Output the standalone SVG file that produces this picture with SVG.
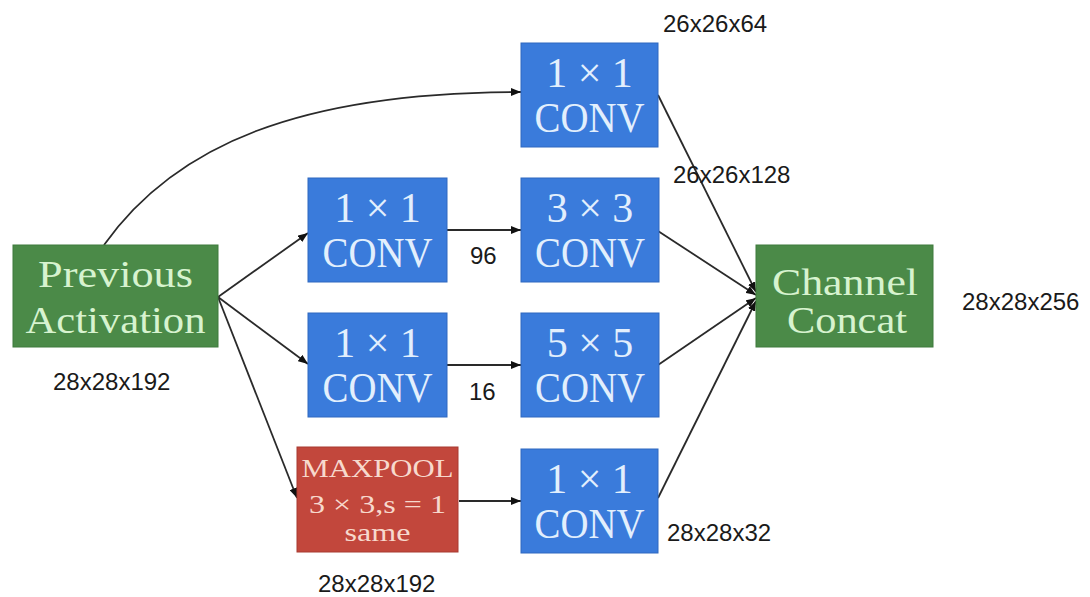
<svg xmlns="http://www.w3.org/2000/svg" width="1090" height="597" viewBox="0 0 1090 597">
  <defs>
    <marker id="arrow" viewBox="0 0 10 8" refX="10" refY="4" markerWidth="10" markerHeight="8" markerUnits="userSpaceOnUse" orient="auto">
      <path d="M0,0 L10,4 L0,8 z" fill="#111"/>
    </marker>
    <style>
      .edge { fill: none; stroke: #2a2a2a; stroke-width: 1.8; marker-end: url(#arrow); }
      .green { fill: #4b8a48; stroke: #3f7a3c; stroke-width: 1; }
      .blue { fill: #3a7bdb; stroke: #2f68c0; stroke-width: 1; }
      .red { fill: #c2473c; stroke: #a83a30; stroke-width: 1; }
      .serif { font-family: "Liberation Serif", "DejaVu Serif", serif; text-anchor: middle; }
      .gtxt { fill: #d7f3cf; font-size: 38px; }
      .btxt { fill: #e2effd; font-size: 42px; }
      .rtxt { fill: #f7d9cd; font-size: 26px; }
      .dim { font-family: "Liberation Sans", Arial, sans-serif; font-size: 24px; fill: #1a1a1a; }
    </style>
  </defs>

  <rect width="1090" height="597" fill="#ffffff"/>

  <!-- connectors -->
  <g id="edges">
    <path class="edge" d="M104,245 C175,145 300,92 521,92"/>
    <path class="edge" d="M218,297 L308,233"/>
    <path class="edge" d="M218,297 L308,364"/>
    <path class="edge" d="M218,297 L297,498"/>
    <path class="edge" d="M447,230 L521,230"/>
    <path class="edge" d="M447,365 L521,365"/>
    <path class="edge" d="M459,501 L521,501"/>
    <path class="edge" d="M658,95 L756,292"/>
    <path class="edge" d="M658,231 L756,295"/>
    <path class="edge" d="M658,365 L756,298"/>
    <path class="edge" d="M658,498 L756,301"/>
  </g>

  <!-- input activation -->
  <g id="prev">
    <rect class="green" x="13" y="245" width="205" height="102"/>
    <text class="serif gtxt" x="115.5" y="287" textLength="155" lengthAdjust="spacingAndGlyphs">Previous</text>
    <text class="serif gtxt" x="115.5" y="333" textLength="180" lengthAdjust="spacingAndGlyphs">Activation</text>
  </g>

  <!-- branch 1: 1x1 -->
  <g id="conv1x1_a">
    <rect class="blue" x="521" y="43" width="137" height="104"/>
    <text class="serif btxt" x="589.5" y="87">1 × 1</text>
    <text class="serif btxt" x="589.5" y="132" textLength="110" lengthAdjust="spacingAndGlyphs">CONV</text>
  </g>

  <!-- branch 2: 1x1 reduce then 3x3 -->
  <g id="conv1x1_b">
    <rect class="blue" x="308" y="178" width="139" height="104"/>
    <text class="serif btxt" x="377.5" y="222">1 × 1</text>
    <text class="serif btxt" x="377.5" y="267" textLength="110" lengthAdjust="spacingAndGlyphs">CONV</text>
  </g>
  <g id="conv3x3">
    <rect class="blue" x="521" y="178" width="138" height="104"/>
    <text class="serif btxt" x="590" y="222">3 × 3</text>
    <text class="serif btxt" x="590" y="267" textLength="110" lengthAdjust="spacingAndGlyphs">CONV</text>
  </g>

  <!-- branch 3: 1x1 reduce then 5x5 -->
  <g id="conv1x1_c">
    <rect class="blue" x="308" y="313" width="139" height="104"/>
    <text class="serif btxt" x="377.5" y="357">1 × 1</text>
    <text class="serif btxt" x="377.5" y="402" textLength="110" lengthAdjust="spacingAndGlyphs">CONV</text>
  </g>
  <g id="conv5x5">
    <rect class="blue" x="521" y="313" width="138" height="104"/>
    <text class="serif btxt" x="590" y="357">5 × 5</text>
    <text class="serif btxt" x="590" y="402" textLength="110" lengthAdjust="spacingAndGlyphs">CONV</text>
  </g>

  <!-- branch 4: max pooling then 1x1 -->
  <g id="maxpool">
    <rect class="red" x="297" y="447" width="161" height="105"/>
    <text class="serif rtxt" x="377.5" y="477" textLength="152" lengthAdjust="spacingAndGlyphs">MAXPOOL</text>
    <text class="serif rtxt" x="377.5" y="513" textLength="137" lengthAdjust="spacingAndGlyphs">3 × 3,s = 1</text>
    <text class="serif rtxt" x="377.5" y="541" textLength="66" lengthAdjust="spacingAndGlyphs">same</text>
  </g>
  <g id="conv1x1_d">
    <rect class="blue" x="521" y="449" width="137" height="104"/>
    <text class="serif btxt" x="589.5" y="493">1 × 1</text>
    <text class="serif btxt" x="589.5" y="538" textLength="110" lengthAdjust="spacingAndGlyphs">CONV</text>
  </g>

  <!-- output -->
  <g id="concat">
    <rect class="green" x="756" y="245" width="177" height="102"/>
    <text class="serif gtxt" x="845" y="295" textLength="146" lengthAdjust="spacingAndGlyphs">Channel</text>
    <text class="serif gtxt" x="847" y="333" textLength="120" lengthAdjust="spacingAndGlyphs">Concat</text>
  </g>

  <!-- tensor shapes -->
  <g id="shapes">
    <text class="dim" x="663" y="32">26x26x64</text>
    <text class="dim" x="673" y="183">26x26x128</text>
    <text class="dim" x="470" y="264">96</text>
    <text class="dim" x="469" y="400">16</text>
    <text class="dim" x="53" y="390">28x28x192</text>
    <text class="dim" x="318" y="592">28x28x192</text>
    <text class="dim" x="667" y="541">28x28x32</text>
    <text class="dim" x="962" y="310">28x28x256</text>
  </g>
</svg>
